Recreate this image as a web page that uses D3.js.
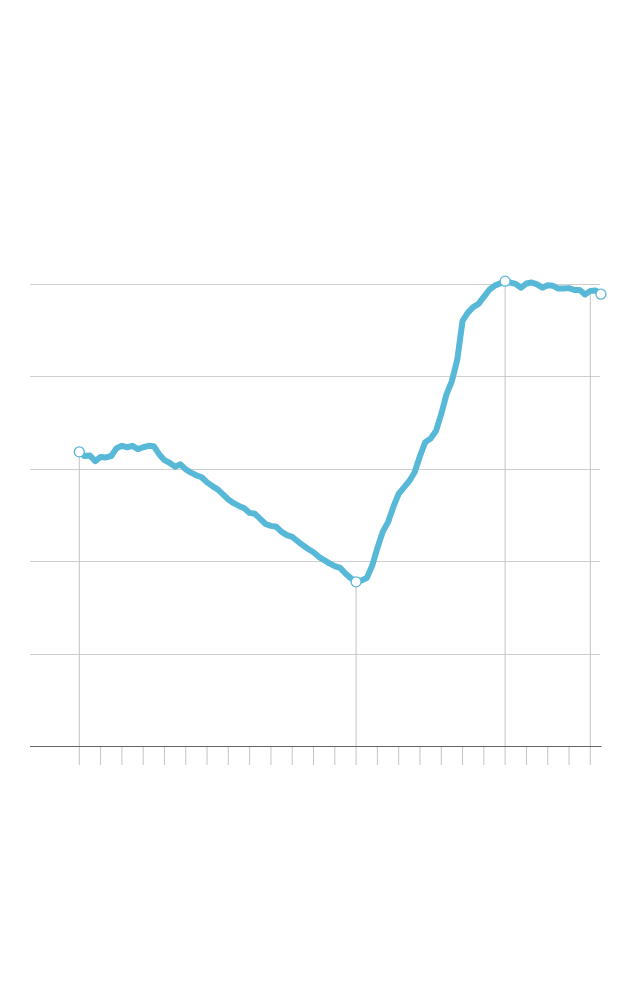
<!DOCTYPE html>
<html lang="en">
<head>
    <meta charset="UTF-8">
    <title></title>
    <style>
        body { margin: 0; background: #fff; }
        svg { display: block; }
    </style>
</head>
<body>
<script src="https://d3js.org/d3.v7.min.js"></script>
<script>
    var width = 640;
    var height = 994;

    // quarterly series, 1990 Q1 to 2014 Q3
    var startYear = 1990;
    var values = [
        63.6, 62.7, 62.8, 61.6, 62.5, 62.4, 62.7, 64.4, 64.9, 64.6,
        64.9, 64.2, 64.6, 64.9, 64.8, 63.1, 61.8, 61.2, 60.4, 60.9,
        59.8, 59.1, 58.5, 58.1, 57.0, 56.2, 55.5, 54.4, 53.3, 52.5,
        51.9, 51.4, 50.4, 50.2, 49.1, 48.0, 47.6, 47.4, 46.3, 45.6,
        45.2, 44.3, 43.4, 42.6, 41.9, 40.9, 40.2, 39.5, 38.9, 38.5,
        37.3, 36.3, 35.5, 35.8, 36.3, 38.9, 42.8, 46.3, 48.4, 51.7,
        54.5, 55.9, 57.3, 59.2, 62.7, 65.7, 66.5, 68.1, 71.8, 76.1,
        78.9, 83.5, 91.9, 93.7, 94.9, 95.6, 97.1, 98.6, 99.5, 100.0,
        100.5, 100.2, 99.9, 99.1, 100.0, 100.2, 99.8, 99.1, 99.6, 99.5,
        98.9, 98.9, 99.0, 98.6, 98.6, 97.6, 98.4, 98.5, 97.7
    ];
    var yTicks = [0, 20, 40, 60, 80, 100];
    var xTicks = d3.range(1990, 2015);
    var dropYears = [1990, 2003, 2010, 2014];
    var markerIndex = [0, 52, 80, 98];

    var data = values.map(function(v, i) {
        return { t: startYear + i / 4, v: v };
    });

    var x = d3.scaleLinear().domain([1990, 2014]).range([79.3, 590.3]);
    var y = d3.scaleLinear().domain([0, 100]).range([746, 283.5]);

    var svg = d3.select("body")
        .append("svg")
        .attr("width", width)
        .attr("height", height);

    // horizontal grid
    svg.append("g")
        .selectAll("line")
        .data(yTicks.filter(function(d) { return d > 0; }))
        .enter()
        .append("line")
        .attr("x1", 30)
        .attr("x2", 600)
        .attr("y1", function(d) { return Math.round(y(d)) + 0.5; })
        .attr("y2", function(d) { return Math.round(y(d)) + 0.5; })
        .attr("stroke", "#cfcfcf")
        .attr("stroke-width", 1);

    // x ticks below baseline
    svg.append("g")
        .selectAll("line")
        .data(xTicks)
        .enter()
        .append("line")
        .attr("x1", function(d) { return x(d); })
        .attr("x2", function(d) { return x(d); })
        .attr("y1", 746)
        .attr("y2", 765)
        .attr("stroke", "#c4c4c4")
        .attr("stroke-width", 1);

    // drop lines
    var valueAt = function(year) {
        return data[Math.round((year - startYear) * 4)].v;
    };
    svg.append("g")
        .selectAll("line")
        .data(dropYears)
        .enter()
        .append("line")
        .attr("x1", function(d) { return x(d); })
        .attr("x2", function(d) { return x(d); })
        .attr("y1", function(d) { return y(valueAt(d)); })
        .attr("y2", 746)
        .attr("stroke", "#c4c4c4")
        .attr("stroke-width", 1);

    // baseline
    svg.append("line")
        .attr("x1", 30)
        .attr("x2", 601.5)
        .attr("y1", 746.5)
        .attr("y2", 746.5)
        .attr("stroke", "#666")
        .attr("stroke-width", 1.2);

    var line = d3.line()
        .x(function(d) { return x(d.t); })
        .y(function(d) { return y(d.v); });

    svg.append("path")
        .datum(data)
        .attr("d", line)
        .attr("fill", "none")
        .attr("stroke", "#58b8d8")
        .attr("stroke-width", 6)
        .attr("stroke-linejoin", "round")
        .attr("stroke-linecap", "round");

    svg.append("g")
        .selectAll("circle")
        .data(markerIndex.map(function(i) { return data[i]; }))
        .enter()
        .append("circle")
        .attr("cx", function(d) { return x(d.t); })
        .attr("cy", function(d) { return y(d.v); })
        .attr("r", 5)
        .attr("fill", "#fff")
        .attr("stroke", "#58b8d8")
        .attr("stroke-width", 1.3);
</script>
</body>
</html>
